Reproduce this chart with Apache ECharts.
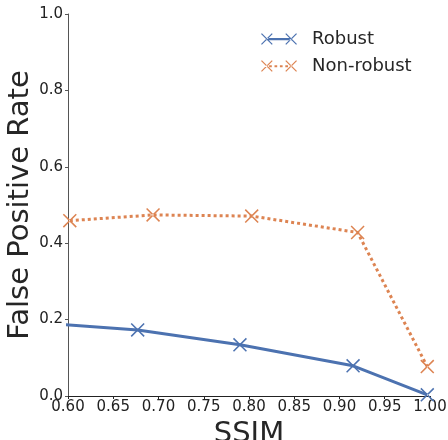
<!DOCTYPE html>
<html>
<head>
<meta charset="utf-8">
<script src="https://cdn.jsdelivr.net/npm/echarts@6/dist/echarts.min.js"></script>
<style>
  html, body { margin: 0; padding: 0; background: #fff; }
  #main { width: 448px; height: 440px; }
</style>
</head>
<body>
<div id="main"></div>
<script>
// data
var robustX = [0.55, 0.677, 0.790, 0.915, 0.997];
var robustY = [0.195, 0.173, 0.134, 0.079, 0.003];
var nonRobustX = [0.602, 0.694, 0.803, 0.920, 0.997];
var nonRobustY = [0.459, 0.474, 0.471, 0.428, 0.077];
var seriesNames = ['Robust', 'Non-robust'];

function pairs(xs, ys) {
    var out = [];
    for (var i = 0; i < xs.length; i++) out.push([xs[i], ys[i]]);
    return out;
}

// legend icons: x marker, line, x marker (40x14 box)
var xLeft = 'M0,1 L1,0 L13,12 L12,13 Z M0,12 L1,13 L13,1 L12,0 Z';
var xRight = 'M27,1 L28,0 L40,12 L39,13 Z M27,12 L28,13 L40,1 L39,0 Z';
var solidIcon = 'path://' + xLeft + ' ' + xRight + ' M6,5.5 L34,5.5 L34,8 L6,8 Z';
var dotIcon = 'path://' + xLeft + ' ' + xRight +
    ' M9,5.6 L12,5.6 L12,8 L9,8 Z M15,5.6 L18,5.6 L18,8 L15,8 Z M21,5.6 L24,5.6 L24,8 L21,8 Z M27,5.6 L30,5.6 L30,8 L27,8 Z';
var xMark = 'path://M0,1 L1,0 L13,12 L12,13 Z M0,12 L1,13 L13,1 L12,0 Z';

var axisColor = '#262626';
var font = 'DejaVu Sans';

var chart = echarts.init(document.getElementById('main'));
chart.setOption({
    animation: false,
    textStyle: { fontFamily: font },
    grid: { left: 68, right: 18, top: 14, bottom: 44, outerBoundsMode: 'none', containLabel: false },
    legend: {
        left: 256,
        top: 25,
        orient: 'vertical',
        itemWidth: 36,
        itemHeight: 13,
        itemGap: 9,
        textStyle: { fontFamily: font, fontSize: 18, color: axisColor, padding: [0, 0, 0, 10] },
        data: [
            { name: seriesNames[0], icon: solidIcon },
            { name: seriesNames[1], icon: dotIcon }
        ]
    },
    xAxis: {
        type: 'value',
        min: 0.6, max: 1.0, interval: 0.05,
        name: 'SSIM',
        nameLocation: 'middle',
        nameGap: 21,
        nameTextStyle: { fontSize: 29, color: axisColor, fontFamily: font },
        axisLine: { show: true, lineStyle: { color: '#222', width: 1 } },
        axisTick: { show: true, length: 3, lineStyle: { color: '#222' } },
        axisLabel: { fontSize: 15, color: '#222', margin: 4,
            formatter: function (v) { return v.toFixed(2); } },
        splitLine: { show: false }
    },
    yAxis: {
        type: 'value',
        min: 0, max: 1.0, interval: 0.2,
        name: 'False Positive Rate',
        nameLocation: 'middle',
        nameGap: 33,
        nameMoveOverlap: false,
        nameTextStyle: { fontSize: 29, color: axisColor, fontFamily: font },
        axisLine: { show: true, lineStyle: { color: '#555', width: 1 } },
        axisTick: { show: true, length: 3, lineStyle: { color: '#555' } },
        axisLabel: { fontSize: 15, color: '#222', margin: 5,
            formatter: function (v) { return v.toFixed(1); } },
        splitLine: { show: false }
    },
    series: [
        {
            name: seriesNames[0],
            type: 'line',
            data: pairs(robustX, robustY),
            clip: true,
            symbol: xMark,
            symbolSize: 14,
            showAllSymbol: true,
            color: '#4C72B0',
            lineStyle: { width: 3, type: 'solid' },
            itemStyle: { color: '#4C72B0' }
        },
        {
            name: seriesNames[1],
            type: 'line',
            data: pairs(nonRobustX, nonRobustY),
            clip: true,
            symbol: xMark,
            symbolSize: 14,
            showAllSymbol: true,
            color: '#DD8452',
            lineStyle: { width: 3, type: [3, 3] },
            itemStyle: { color: '#DD8452' }
        }
    ]
});
</script>
</body>
</html>
